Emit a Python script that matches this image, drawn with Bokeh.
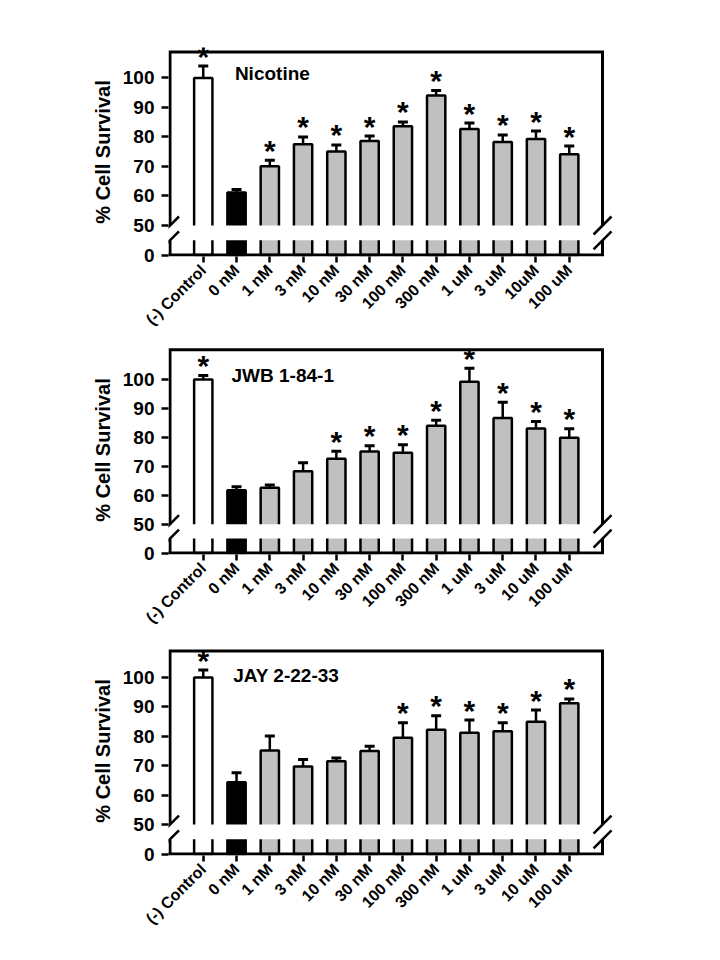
import numpy as np
from bokeh.plotting import figure
from bokeh.layouts import column
from bokeh.models import FixedTicker, Range1d, Label, ColumnDataSource, Arrow
from bokeh.core.properties import value
from bokeh.embed import file_html
from bokeh.resources import INLINE

# ---------------- data ----------------
labels_nicotine = ["(-) Control", "0 nM", "1 nM", "3 nM", "10 nM", "30 nM",
                   "100 nM", "300 nM", "1 uM", "3 uM", "10uM", "100 uM"]
labels_other = ["(-) Control", "0 nM", "1 nM", "3 nM", "10 nM", "30 nM",
                "100 nM", "300 nM", "1 uM", "3 uM", "10 uM", "100 uM"]

nicotine_mean = [100.0, 61.2, 70.1, 77.5, 75.1, 78.6, 83.6, 94.0, 82.7, 78.3, 79.3, 74.1]
nicotine_err = [4.0, 1.0, 2.0, 2.5, 2.2, 1.7, 1.5, 1.7, 2.0, 2.4, 2.7, 2.8]
nicotine_sig = [1, 0, 1, 1, 1, 1, 1, 1, 1, 1, 1, 1]

jwb_mean = [100.0, 61.7, 62.6, 68.3, 72.6, 75.1, 74.7, 84.0, 99.3, 86.7, 83.1, 79.9]
jwb_err = [1.4, 1.2, 0.9, 2.9, 2.6, 2.0, 2.8, 1.9, 4.6, 5.5, 2.4, 3.1]
jwb_sig = [1, 0, 0, 0, 1, 1, 1, 1, 1, 1, 1, 1]

jay_mean = [100.0, 64.4, 75.2, 69.7, 71.5, 75.0, 79.5, 82.2, 81.2, 81.7, 84.9, 91.2]
jay_err = [2.5, 3.2, 4.9, 2.4, 1.1, 1.6, 5.1, 4.8, 4.3, 2.9, 4.0, 1.5]
jay_sig = [1, 0, 0, 0, 0, 0, 1, 1, 1, 1, 1, 1]

y_tick_values = [0, 50, 60, 70, 80, 90, 100]

# ---------------- broken-axis mapping ----------------
ZERO_POS = 40.0      # where the value 0 sits on the drawn scale
GAP_LOW, GAP_HIGH = 45.0, 50.0


def disp(v):
    return v if v >= 50 else ZERO_POS + v * (GAP_LOW - ZERO_POS) / 50.0


FONT = value("Liberation Sans")
SPACING = 33.3
AX_L, AX_R = -1.0, 12.0
X0 = AX_L - 1.5 / SPACING
X1 = 12.45


def make_panel(labels, means, errs, sig, title, tx, ty, top_disp, cat0_px,
               border_top, border_bottom):
    frame_h = 209
    y0 = ZERO_POS - 0.5
    y1 = top_disp + 1.5
    ppu = frame_h / (y1 - y0)
    frame_w = int(round((X1 - X0) * SPACING))
    left = int(round(cat0_px + X0 * SPACING - 8))

    p = figure(x_range=Range1d(X0, X1), y_range=Range1d(y0, y1),
               frame_width=frame_w, frame_height=frame_h,
               min_border_left=left, min_border_right=12,
               min_border_top=border_top, min_border_bottom=border_bottom,
               output_backend="svg", toolbar_location=None)
    p.outline_line_color = None
    p.grid.visible = False
    p.background_fill_color = "white"
    p.border_fill_color = "white"

    n = len(labels)
    xs = list(range(n))
    tops = [disp(m) for m in means]
    ups = [disp(m + e) for m, e in zip(means, errs)]
    colors = ["white", "black"] + ["#c0c0c0"] * (n - 2)

    src = ColumnDataSource(dict(x=xs, top=tops, up=ups, color=colors,
                                cl=[x - 0.15 for x in xs], cr=[x + 0.15 for x in xs]))
    # error bars (upper only)
    p.segment(x0="x", y0="top", x1="x", y1="up", source=src,
              line_color="black", line_width=2.5)
    p.segment(x0="cl", y0="up", x1="cr", y1="up", source=src,
              line_color="black", line_width=3)
    # bars
    p.vbar(x="x", top="top", bottom=ZERO_POS, width=0.55, source=src,
           fill_color="color", line_color="black", line_width=2.5)
    # white break band
    p.quad(left=X0, right=X1, bottom=GAP_LOW, top=GAP_HIGH,
           fill_color="white", line_color=None)

    # frame lines with breaks
    T = top_disp
    p.multi_line(xs=[[AX_L, AX_L, AX_R, AX_R], [AX_L, AX_L], [AX_L, AX_R, AX_R]],
                 ys=[[GAP_HIGH, T, T, GAP_HIGH], [GAP_LOW, ZERO_POS], [ZERO_POS, ZERO_POS, GAP_LOW]],
                 line_color="black", line_width=3, line_join="miter")
    # short extension of the base line to the left of the axis
    p.add_layout(Arrow(end=None, x_start=AX_L - 0.25, y_start=ZERO_POS,
                       x_end=AX_L, y_end=ZERO_POS, line_color="black", line_width=3))
    # break marks
    dx, dy = 0.27, 9.0 / ppu
    for cx in (AX_L, AX_R):
        for cy in (GAP_LOW, GAP_HIGH):
            p.add_layout(Arrow(end=None, x_start=cx - dx, y_start=cy - dy,
                               x_end=cx + dx, y_end=cy + dy,
                               line_color="black", line_width=2.5))

    # significance asterisks
    sx = [x for x, s in zip(xs, sig) if s]
    sy = [u for u, s in zip(ups, sig) if s]
    ssrc = ColumnDataSource(dict(x=sx, y=sy, t=["*"] * len(sx)))
    p.text(x="x", y="y", text="t", source=ssrc, text_font=FONT,
           text_font_style="bold", text_font_size="30px", text_align="center",
           text_baseline="alphabetic", text_color="black", y_offset=-10)

    # panel title
    p.add_layout(Label(x=tx, y=ty, text=title, text_font="Liberation Sans",
                       text_font_style="bold", text_font_size="19px",
                       text_baseline="alphabetic", text_color="black"))

    # y axis
    ya = p.yaxis[0]
    ya.ticker = FixedTicker(ticks=[disp(v) for v in y_tick_values])
    ya.major_label_overrides = {disp(v): str(v) for v in y_tick_values}
    ya.axis_line_color = None
    ya.major_tick_out = 7
    ya.major_tick_in = 0
    ya.major_tick_line_width = 2.5
    ya.major_tick_line_color = "black"
    ya.minor_tick_line_color = None
    ya.major_label_standoff = 7
    ya.major_label_text_font = "Liberation Sans"
    ya.major_label_text_font_style = "bold"
    ya.major_label_text_font_size = "19px"
    ya.major_label_text_color = "black"
    ya.axis_label = "% Cell Survival"
    ya.axis_label_text_font = "Liberation Sans"
    ya.axis_label_text_font_style = "bold"
    ya.axis_label_text_font_size = "20px"
    ya.axis_label_text_color = "black"
    ya.axis_label_standoff = 6

    # x axis
    xa = p.xaxis[0]
    xa.ticker = FixedTicker(ticks=xs)
    xa.major_label_overrides = {x: lab for x, lab in zip(xs, labels)}
    xa.major_label_orientation = np.pi / 4
    xa.axis_line_color = None
    xa.major_tick_out = 6
    xa.major_tick_in = 0
    xa.major_tick_line_width = 2.5
    xa.major_tick_line_color = "black"
    xa.minor_tick_line_color = None
    xa.major_label_standoff = 5
    xa.major_label_text_font = "Liberation Sans"
    xa.major_label_text_font_style = "bold"
    xa.major_label_text_font_size = "16px"
    xa.major_label_text_color = "black"
    return p


p1 = make_panel(labels_nicotine, nicotine_mean, nicotine_err, nicotine_sig,
                "Nicotine", 0.95, 101.4, 108.8, 204.5, 47, 80)
p2 = make_panel(labels_other, jwb_mean, jwb_err, jwb_sig,
                "JWB 1-84-1", 0.85, 101.4, 110.3, 208.0, 8, 84)
p3 = make_panel(labels_other, jay_mean, jay_err, jay_sig,
                "JAY 2-22-33", 0.9, 100.8, 109.0, 210.8, 8, 85)

layout = column(p1, p2, p3)
open("out.html", "w").write(file_html(layout, INLINE))
